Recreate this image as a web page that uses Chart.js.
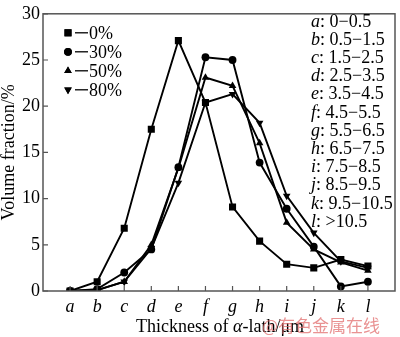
<!DOCTYPE html>
<html>
<head>
<meta charset="utf-8">
<script src="https://cdn.jsdelivr.net/npm/chart.js@4/dist/chart.umd.min.js"></script>
<style>
  html, body { margin: 0; padding: 0; background: #fff; }
  #wrap { width: 400px; height: 337px; position: relative; }
</style>
</head>
<body>
<div id="wrap"><canvas id="c" width="400" height="337"></canvas></div>
<script>
// Thickness classes of the alpha laths
const categories = ['a', 'b', 'c', 'd', 'e', 'f', 'g', 'h', 'i', 'j', 'k', 'l'];
const ranges = ['0\u22120.5', '0.5\u22121.5', '1.5\u22122.5', '2.5\u22123.5', '3.5\u22124.5', '4.5\u22125.5',
                '5.5\u22126.5', '6.5\u22127.5', '7.5\u22128.5', '8.5\u22129.5', '9.5\u221210.5', '>10.5'];
const seriesNames = ['0%', '30%', '50%', '80%'];

// Volume fraction (%) per thickness class
const def0  = [0, 1.0, 6.8, 17.5, 27.1, 20.4, 9.1, 5.4, 2.9, 2.5, 3.4, 2.7];
const def30 = [0, 0.2, 2.0, 4.5, 13.4, 25.3, 25.0, 13.9, 8.9, 4.8, 0.5, 1.0];
const def50 = [0, 0.1, 1.0, 5.0, 13.3, 23.1, 22.2, 16.0, 7.4, 4.5, 3.1, 2.2];
const def80 = [0, 0.1, 1.0, 4.6, 11.7, 20.4, 21.3, 18.2, 10.3, 6.3, 3.2, 2.5];

const yTicks = [0, 5, 10, 15, 20, 25, 30];

const SERIF = "'Liberation Serif', 'Times New Roman', serif";
const markerStyles = ['rect', 'circle', 'triangle', 'triangle'];
const markerRot = [0, 0, 0, 180];
const markerRad = [5, 3.9, 4.4, 4.4];

function toPoints(arr) { return arr.map((v, i) => ({ x: i, y: v })); }

const datasets = [def0, def30, def50, def80].map((arr, k) => ({
  label: seriesNames[k],
  data: toPoints(arr),
  borderColor: '#000',
  backgroundColor: '#000',
  borderWidth: 1.9,
  pointStyle: markerStyles[k],
  rotation: markerRot[k],
  pointRadius: markerRad[k],
  pointBorderWidth: 0,
  tension: 0
}));

// Frame, inward ticks, axis title, legends and the site mark
const decor = {
  id: 'decor',
  afterDatasetsDraw(chart) {
    const ctx = chart.ctx;
    const a = chart.chartArea;
    const xs = chart.scales.x, ys = chart.scales.y;
    ctx.save();
    ctx.strokeStyle = '#555';
    ctx.lineWidth = 1.5;
    ctx.strokeRect(a.left, a.top, a.right - a.left, a.bottom - a.top);
    ctx.lineWidth = 1.2;
    ctx.beginPath();
    yTicks.forEach(v => {
      const y = ys.getPixelForValue(v);
      ctx.moveTo(a.left, y); ctx.lineTo(a.left + 5, y);
    });
    categories.forEach((c, i) => {
      const x = xs.getPixelForValue(i);
      ctx.moveTo(x, a.bottom); ctx.lineTo(x, a.bottom - 5);
    });
    ctx.stroke();

    ctx.fillStyle = '#000';
    ctx.strokeStyle = '#000';
    ctx.textBaseline = 'middle';
    ctx.textAlign = 'left';

    // x axis title with an italic alpha
    const parts = [['Thickness of ', ''], ['\u03b1', 'italic '], ['-lath/\u03bcm', '']];
    let total = 0;
    parts.forEach(p => { ctx.font = p[1] + '18px ' + SERIF; total += ctx.measureText(p[0]).width; });
    let tx = (a.left + a.right) / 2 - total / 2 + 1;
    parts.forEach(p => {
      ctx.font = p[1] + '18px ' + SERIF;
      ctx.fillText(p[0], tx, 327);
      tx += ctx.measureText(p[0]).width;
    });

    // series legend
    ctx.font = '18px ' + SERIF;
    seriesNames.forEach((name, k) => {
      const y = a.top + 19 + k * 19;
      Chart.helpers.drawPoint(ctx, {
        pointStyle: markerStyles[k], rotation: markerRot[k],
        radius: markerRad[k], borderWidth: 0
      }, a.left + 25, y);
      ctx.fill();
      ctx.lineWidth = 1.3;
      ctx.beginPath();
      ctx.moveTo(a.left + 32, y); ctx.lineTo(a.left + 45, y);
      ctx.stroke();
      ctx.fillText(name, a.left + 46, y + 1);
    });

    // class legend
    categories.forEach((c, i) => {
      const y = a.top + 8 + i * 18.2;
      const x0 = 311;
      ctx.font = 'italic 18px ' + SERIF;
      ctx.fillText(c, x0, y);
      const w = ctx.measureText(c).width;
      ctx.font = '18px ' + SERIF;
      ctx.fillText(': ' + ranges[i], x0 + w, y);
    });

    // site mark
    ctx.font = "17px 'Noto Sans CJK SC', sans-serif";
    ctx.fillStyle = 'rgba(225, 110, 110, 0.75)';
    ctx.fillText('@有色金属在线', 262, 326);
    ctx.restore();
  }
};

new Chart(document.getElementById('c'), {
  type: 'line',
  data: { datasets },
  plugins: [decor],
  options: {
    responsive: false,
    animation: false,
    layout: { padding: { top: 6, right: 3, left: 0, bottom: 0 } },
    plugins: { legend: { display: false }, tooltip: { enabled: false } },
    scales: {
      x: {
        type: 'linear',
        min: -1, max: 12,
        afterFit(s) { s.height = 46; },
        afterBuildTicks(s) { s.ticks = categories.map((c, i) => ({ value: i })); },
        grid: { display: false, drawTicks: false },
        border: { display: false },
        ticks: {
          padding: 5,
          color: '#000',
          font: { family: SERIF, size: 18, style: 'italic' },
          callback: (v) => categories[v] ?? ''
        },
        title: { display: false }
      },
      y: {
        min: 0, max: 30,
        afterFit(s) { s.width = 43; },
        afterBuildTicks(s) { s.ticks = yTicks.map(v => ({ value: v })); },
        grid: { display: false, drawTicks: false },
        border: { display: false },
        ticks: {
          padding: 3,
          color: '#000',
          font: { family: SERIF, size: 18 }
        },
        title: {
          display: true,
          text: 'Volume fraction/%',
          color: '#000',
          font: { family: SERIF, size: 18, lineHeight: 1 },
          padding: 0
        }
      }
    }
  }
});
</script>
</body>
</html>
